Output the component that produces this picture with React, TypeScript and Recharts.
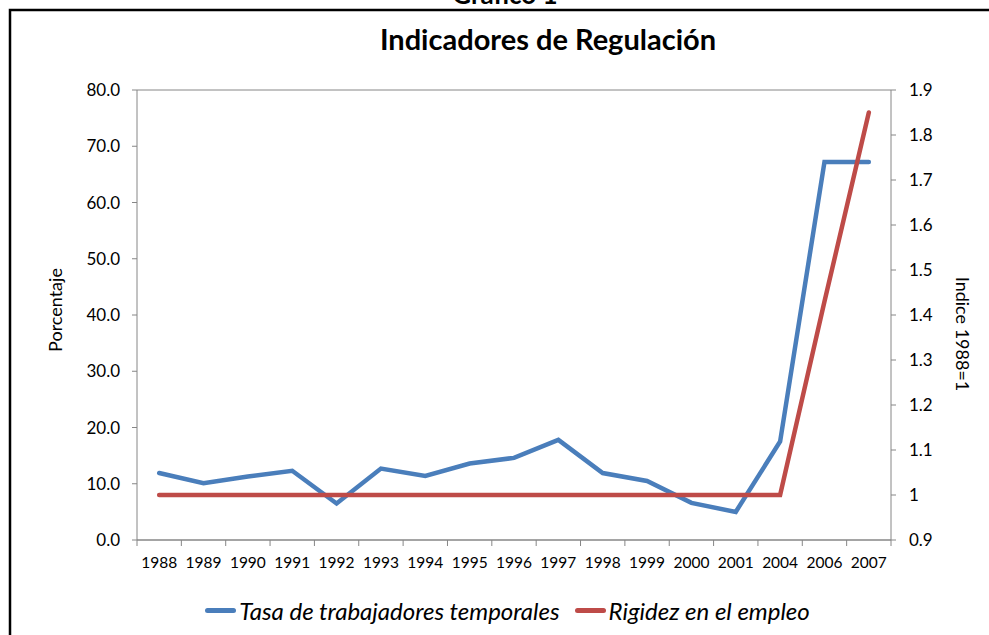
import React from 'react';
import { LineChart, Line, XAxis, YAxis, CartesianGrid, Legend } from 'recharts';

// Categories and series
const years = [
  '1988', '1989', '1990', '1991', '1992', '1993', '1994', '1995', '1996',
  '1997', '1998', '1999', '2000', '2001', '2004', '2006', '2007',
];
const tasaTemporales = [
  11.9, 10.1, 11.3, 12.3, 6.5, 12.7, 11.4, 13.6, 14.6,
  17.8, 11.9, 10.5, 6.6, 5.0, 17.5, 67.2, 67.2,
];
const rigidezEmpleo = [
  1, 1, 1, 1, 1, 1, 1, 1, 1,
  1, 1, 1, 1, 1, 1, 1.43, 1.85,
];
const leftTicks = [0, 10, 20, 30, 40, 50, 60, 70, 80];
const rightTicks = [0.9, 1.0, 1.1, 1.2, 1.3, 1.4, 1.5, 1.6, 1.7, 1.8, 1.9];
const seriesNames = ['Tasa de trabajadores temporales', 'Rigidez en el empleo'];

const BLUE = '#4A7EBB';
const RED = '#BE4B48';
const AXIS = '#868686';
const FONT = 'Lato, "Open Sans", sans-serif';

const W = 989;
const H = 635;
const PLOT_LEFT = 137;
const PLOT_RIGHT = 891;
const PLOT_TOP = 90;
const PLOT_BOTTOM = 540;
const BAND = (PLOT_RIGHT - PLOT_LEFT) / years.length;

const data = years.map((year, i) => ({
  year,
  tasa: tasaTemporales[i],
  rigidez: rigidezEmpleo[i],
}));

// Excel style: tick marks sit between categories, labels in the middle
const YearTick = (props: any) => {
  const { x, payload, index } = props;
  const last = index === years.length - 1;
  return (
    <g>
      <line x1={x - BAND / 2} x2={x - BAND / 2} y1={PLOT_BOTTOM} y2={PLOT_BOTTOM + 6} stroke={AXIS} />
      {last && (
        <line x1={x + BAND / 2} x2={x + BAND / 2} y1={PLOT_BOTTOM} y2={PLOT_BOTTOM + 6} stroke={AXIS} />
      )}
      <text x={x} y={PLOT_BOTTOM + 28} textAnchor="middle" fill="#000" fontSize={15.5} fontFamily={FONT}>
        {payload.value}
      </text>
    </g>
  );
};

const renderLegend = () => {
  const colors = [BLUE, RED];
  return (
    <div style={{ display: 'flex', justifyContent: 'center', gap: 15, paddingLeft: 26, fontFamily: FONT }}>
      {seriesNames.map((name, i) => (
        <div key={name} style={{ display: 'flex', alignItems: 'center' }}>
          <span style={{ display: 'inline-block', width: 31, height: 5, borderRadius: 3, background: colors[i], marginRight: 3 }} />
          <span style={{ fontStyle: 'italic', fontSize: 24, color: '#000' }}>{name}</span>
        </div>
      ))}
    </div>
  );
};

const App: React.FC = () => {
  return (
    <div style={{ position: 'absolute', left: 0, top: 0, width: W, height: H, background: '#fff', overflow: 'hidden' }}>
      <svg width={W} height={H} style={{ position: 'absolute', left: 0, top: 0 }}>
        <rect x={10} y={10} width={1000} height={700} fill="none" stroke="#000" strokeWidth={2.5} />
        <text x={505} y={4} textAnchor="middle" fontSize={26} fontWeight={700} fontFamily={FONT}>
          Gráfico 1
        </text>
        <text x={548} y={50} textAnchor="middle" fontSize={29} fontWeight={700} fontFamily={FONT}>
          Indicadores de Regulación
        </text>
        <text
          x={0}
          y={0}
          transform={`translate(62, 310) rotate(-90)`}
          textAnchor="middle"
          fontSize={18}
          fontFamily={FONT}
        >
          Porcentaje
        </text>
        <text
          x={0}
          y={0}
          transform={`translate(956, 334) rotate(90)`}
          textAnchor="middle"
          fontSize={18}
          fontFamily={FONT}
        >
          Indice 1988=1
        </text>
      </svg>
      <div style={{ position: 'absolute', left: 0, top: 0 }}>
        <LineChart
          width={W}
          height={H}
          data={data}
          margin={{ top: PLOT_TOP, right: W - PLOT_RIGHT - 60, bottom: H - PLOT_BOTTOM - 30, left: PLOT_LEFT - 60 }}
        >
          <CartesianGrid vertical={false} stroke={AXIS} strokeWidth={1} />
          <XAxis
            dataKey="year"
            scale="band"
            height={30}
            interval={0}
            stroke={AXIS}
            tickLine={false}
            tick={<YearTick />}
          />
          <YAxis
            yAxisId="left"
            width={60}
            domain={[0, 80]}
            ticks={leftTicks}
            interval={0}
            stroke={AXIS}
            tickSize={5}
            tickMargin={12}
            tick={{ fill: '#000', fontSize: 17, fontFamily: FONT }}
            tickFormatter={(v: number) => v.toFixed(1)}
          />
          <YAxis
            yAxisId="right"
            orientation="right"
            width={60}
            domain={[0.9, 1.9]}
            ticks={rightTicks}
            interval={0}
            stroke={AXIS}
            tickSize={5}
            tickMargin={13}
            tick={{ fill: '#000', fontSize: 17, fontFamily: FONT }}
            tickFormatter={(v: number) => String(Number(v.toFixed(1)))}
          />
          <Legend verticalAlign="middle" wrapperStyle={{ top: 596, left: 0, width: W }} content={renderLegend} />
          <Line
            yAxisId="left"
            type="linear"
            dataKey="tasa"
            name={seriesNames[0]}
            stroke={BLUE}
            strokeWidth={4.5}
            strokeLinecap="round"
            dot={false}
            activeDot={false}
            isAnimationActive={false}
          />
          <Line
            yAxisId="right"
            type="linear"
            dataKey="rigidez"
            name={seriesNames[1]}
            stroke={RED}
            strokeWidth={4.5}
            strokeLinecap="round"
            dot={false}
            activeDot={false}
            isAnimationActive={false}
          />
        </LineChart>
      </div>
    </div>
  );
};

export default App;
